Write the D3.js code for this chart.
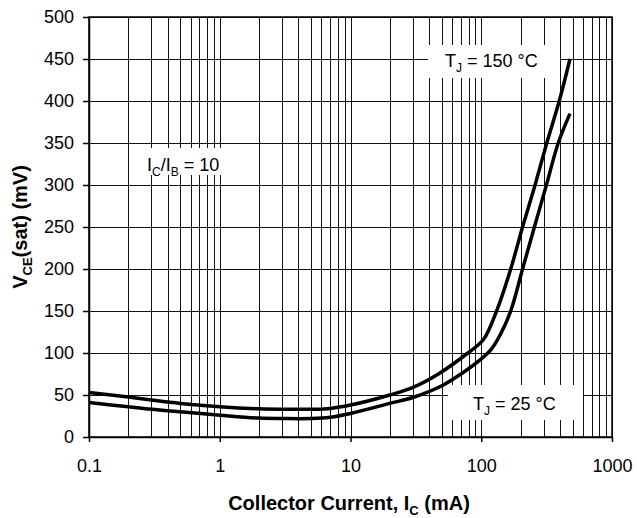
<!DOCTYPE html>
<html>
<head>
<meta charset="utf-8">
<script src="https://cdn.jsdelivr.net/npm/d3@7"></script>
<style>
  body { margin: 0; background: #fff; }
  svg { font-family: "Liberation Sans", Arial, sans-serif; }
</style>
</head>
<body>
<svg id="chart" width="637" height="518"></svg>
<script>
// collector current (mA) and VCE(sat) (mV)
let current150 = [0.1, 0.2, 0.3, 0.5, 1, 2, 3, 5, 7, 10, 20, 30, 48, 79, 104, 131, 168, 207, 258, 317, 395, 477]
let vce150     = [53, 47.5, 44, 40, 36, 33.5, 33, 33, 34, 38, 50, 59, 76, 100, 116, 150, 200, 250, 300, 350, 400, 450]

let current25 = [0.1, 0.2, 0.3, 0.5, 1, 2, 3, 5, 7, 10, 20, 30, 50, 70, 100, 120, 140, 168, 207, 255, 315, 388, 477]
let vce25     = [41, 36, 33, 30, 26, 22.5, 22, 22, 23.5, 28, 40, 47, 61, 75, 93, 105, 122, 150, 200, 250, 300, 350, 385]

let xTicks = [0.1, 1, 10, 100, 1000]
let yTicks = [0, 50, 100, 150, 200, 250, 300, 350, 400, 450, 500]

let margin = {top: 17, right: 25, bottom: 81, left: 89}
let width = 637 - margin.left - margin.right,
    height = 518 - margin.top - margin.bottom

let svg = d3.select('#chart')
let g = svg.append('g')
    .attr('transform', `translate(${margin.left},${margin.top})`)

let x = d3.scaleLog()
    .domain([0.1, 1000])
    .range([0, width])

let y = d3.scaleLinear()
    .domain([0, 500])
    .range([height, 0])

// minor log grid: 1..9 in each decade
let minor = []
for (let dec = 0.1; dec < 1000; dec *= 10) {
    for (let k = 1; k < 10; k++) minor.push(+(dec * k).toPrecision(3))
}
minor.push(1000)

g.append('g').selectAll('line')
    .data(minor)
  .enter().append('line')
    .attr('x1', (d) => Math.round(x(d)) + 0.5)
    .attr('x2', (d) => Math.round(x(d)) + 0.5)
    .attr('y1', 0)
    .attr('y2', height)
    .attr('stroke', '#111')
    .attr('stroke-width', 1)

g.append('g').selectAll('line')
    .data(yTicks)
  .enter().append('line')
    .attr('x1', 0)
    .attr('x2', width)
    .attr('y1', (d) => Math.round(y(d)) + 0.5)
    .attr('y2', (d) => Math.round(y(d)) + 0.5)
    .attr('stroke', '#111')
    .attr('stroke-width', 1)

// white label boxes cut the grid
function labelBox(x0, y0, w, h) {
    g.append('rect')
        .attr('x', x0 - margin.left)
        .attr('y', y0 - margin.top)
        .attr('width', w)
        .attr('height', h)
        .attr('fill', '#fff')
}
labelBox(428, 45, 132, 33)
labelBox(448, 385, 135, 35)
labelBox(136, 148, 114, 27)

// axes
let xAxis = g.append('g')
    .attr('transform', `translate(0,${height})`)
    .call(d3.axisBottom(x).tickValues(xTicks).tickFormat((d) => String(d)).tickSize(5).tickSizeOuter(0))
xAxis.selectAll('text')
    .attr('y', 35)
    .attr('dy', 0)
    .attr('font-size', 18)
    .attr('fill', '#000')

let yAxis = g.append('g')
    .call(d3.axisLeft(y).tickValues(yTicks).tickSize(6).tickPadding(9).tickSizeOuter(0))
yAxis.selectAll('text')
    .attr('font-size', 18)
    .attr('fill', '#000')

svg.selectAll('.domain').attr('stroke', '#000').attr('stroke-width', 1.5)
svg.selectAll('.tick line').attr('stroke', '#000').attr('stroke-width', 1.5)

// plot border
g.append('rect')
    .attr('x', 0).attr('y', 0)
    .attr('width', width).attr('height', height)
    .attr('fill', 'none')
    .attr('stroke', '#000')
    .attr('stroke-width', 1.5)

// curves
let line = d3.line()
    .x((d) => x(d[0]))
    .y((d) => y(d[1]))
    .curve(d3.curveCatmullRom.alpha(0.5))

g.append('path')
    .datum(d3.zip(current150, vce150))
    .attr('d', line)
    .attr('fill', 'none')
    .attr('stroke', '#000')
    .attr('stroke-width', 3.5)

g.append('path')
    .datum(d3.zip(current25, vce25))
    .attr('d', line)
    .attr('fill', 'none')
    .attr('stroke', '#000')
    .attr('stroke-width', 3.5)

// annotations (page coordinates)
function subText(px, py, parts) {
    let t = svg.append('text')
        .attr('x', px)
        .attr('y', py)
        .attr('font-size', 18)
    parts.forEach((p) => {
        let ts = t.append('tspan').text(p[0])
        if (p[1] === 'sub') ts.attr('font-size', 12).attr('dy', 5)
        if (p[1] === 'up') ts.attr('dy', -5)
    })
    return t
}
subText(445, 67, [['T'], ['J', 'sub'], [' = 150 \u00B0C', 'up']])
subText(473, 410, [['T'], ['J', 'sub'], [' = 25 \u00B0C', 'up']])
subText(147, 171, [['I'], ['C', 'sub'], ['/I', 'up'], ['B', 'sub'], [' = 10', 'up']])

// axis titles
let xt = svg.append('text')
    .attr('x', 349)
    .attr('y', 510)
    .attr('text-anchor', 'middle')
    .attr('font-size', 20)
    .attr('font-weight', 'bold')
xt.append('tspan').text('Collector Current, I')
xt.append('tspan').text('C').attr('font-size', 13).attr('dy', 5)
xt.append('tspan').text(' (mA)').attr('dy', -5)

let yt = svg.append('text')
    .attr('transform', 'translate(27,227) rotate(-90)')
    .attr('text-anchor', 'middle')
    .attr('font-size', 20)
    .attr('font-weight', 'bold')
yt.append('tspan').text('V')
yt.append('tspan').text('CE').attr('font-size', 13).attr('dy', 5)
yt.append('tspan').text('(sat) (mV)').attr('dy', -5)
</script>
</body>
</html>
